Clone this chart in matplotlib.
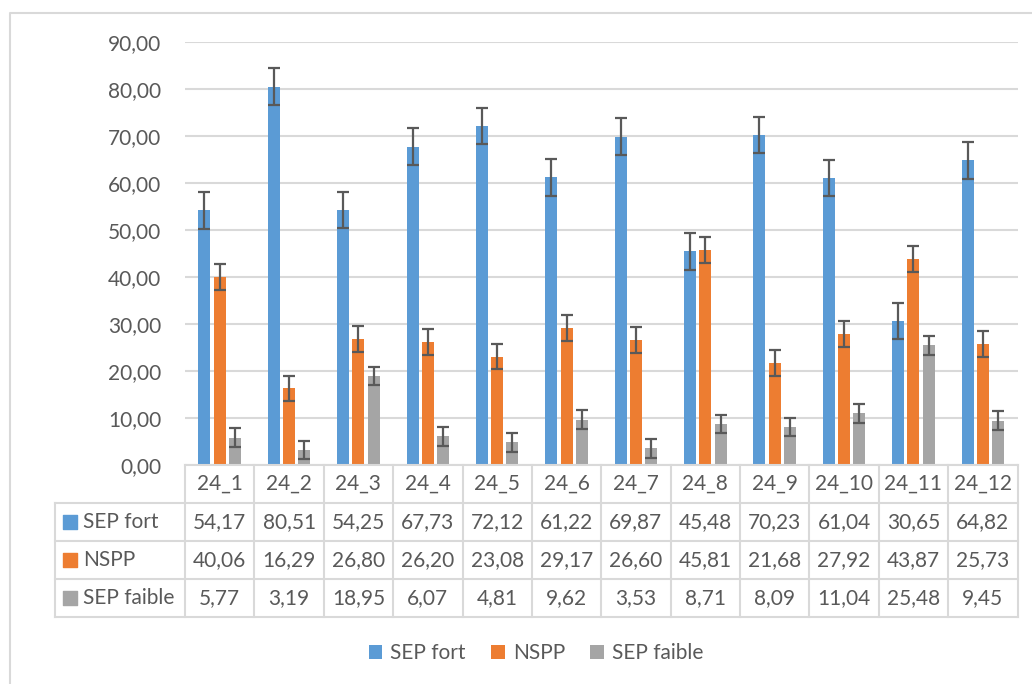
import matplotlib
matplotlib.use("Agg")
import matplotlib.pyplot as plt
from matplotlib.patches import Patch
import numpy as np

plt.rcParams['font.family'] = ['Lato', 'DejaVu Sans']

categories = ["24_1", "24_2", "24_3", "24_4", "24_5", "24_6",
              "24_7", "24_8", "24_9", "24_10", "24_11", "24_12"]
series_names = ["SEP fort", "NSPP", "SEP faible"]
sep_fort = [54.17, 80.51, 54.25, 67.73, 72.12, 61.22, 69.87, 45.48, 70.23, 61.04, 30.65, 64.82]
nspp = [40.06, 16.29, 26.80, 26.20, 23.08, 29.17, 26.60, 45.81, 21.68, 27.92, 43.87, 25.73]
sep_faible = [5.77, 3.19, 18.95, 6.07, 4.81, 9.62, 3.53, 8.71, 8.09, 11.04, 25.48, 9.45]
err_fort = [3.9] * 12
err_nspp = [2.75] * 12
err_faible = [2.0] * 12
yticks = [0, 10, 20, 30, 40, 50, 60, 70, 80, 90]

colors = ["#5B9BD5", "#ED7D31", "#A5A5A5"]
text_c = "#595959"
grid_c = "#D9D9D9"
FS = 15

W, H = 1032, 684
fig = plt.figure(figsize=(W / 100, H / 100), dpi=100)

# outer chart border
ov = fig.add_axes([0, 0, 1, 1])
ov.set_xlim(0, W)
ov.set_ylim(H, 0)
ov.axis('off')
ov.plot([10, 10, W], [H, 13, 13], color=grid_c, lw=1.5)

x_left, x_right = 185, 1017.5
y_top, y_zero = 42, 465
ax = fig.add_axes([x_left / W, (H - y_zero) / H, (x_right - x_left) / W, (y_zero - y_top) / H])
n = len(categories)
x = np.arange(n)
bw = 0.173
step = 0.22
data = [sep_fort, nspp, sep_faible]
errs = [err_fort, err_nspp, err_faible]
for k in range(3):
    ax.bar(x + (k - 1) * step, data[k], width=bw, color=colors[k], zorder=3,
           yerr=errs[k], error_kw=dict(ecolor="#595959", elinewidth=1.6, capsize=4.5, capthick=1.6, zorder=4))
ax.set_xlim(-0.5, n - 0.5)
ax.set_ylim(0, 90)
ax.set_yticks(yticks)
ax.set_yticklabels([f"{v:.2f}".replace('.', ',') for v in yticks], fontsize=FS, color=text_c)
ax.tick_params(axis='y', length=0, pad=17)
ax.set_xticks([])
ax.grid(axis='y', color=grid_c, lw=1.5, zorder=0)
for s in ax.spines.values():
    s.set_visible(False)

# data table
t_left, t_bottom = 55, 616.7
colw = (x_right - x_left) / n
lab_w = (x_left - t_left) / colw
tab = fig.add_axes([t_left / W, (H - t_bottom) / H, (x_right - t_left) / W, (t_bottom - y_zero) / H])
tab.set_xlim(-0.5 - lab_w, n - 0.5)
tab.set_ylim(4, 0)
tab.axis('off')
lc = grid_c
lw = 1.5
tab.plot([-0.5, n - 0.5], [0, 0], color=lc, lw=lw, clip_on=False)
for r in range(1, 5):
    tab.plot([-0.5 - lab_w, n - 0.5], [r, r], color=lc, lw=lw, clip_on=False)
for c in range(n + 1):
    tab.plot([-0.5 + c, -0.5 + c], [0, 4], color=lc, lw=lw, clip_on=False)
tab.plot([-0.5 - lab_w, -0.5 - lab_w], [1, 4], color=lc, lw=lw, clip_on=False)
for i, cat in enumerate(categories):
    tab.text(i, 0.5, cat, ha='center', va='center', fontsize=FS, color=text_c)
for r in range(3):
    for i in range(n):
        tab.text(i, r + 1.5, f"{data[r][i]:.2f}".replace('.', ','), ha='center', va='center',
                 fontsize=FS, color=text_c)
    sq_x = -0.5 - lab_w + 15 / colw
    tab.scatter([sq_x], [r + 1.5], marker='s', s=110, color=colors[r], clip_on=False)
    tab.text(-0.5 - lab_w + 28 / colw, r + 1.5, series_names[r], ha='left', va='center',
             fontsize=FS, color=text_c)

handles = [Patch(facecolor=colors[k], edgecolor='none', label=series_names[k]) for k in range(3)]
fig.legend(handles=handles, loc='center', bbox_to_anchor=(536 / W, (H - 653) / H), ncol=3,
           frameon=False, fontsize=FS, handlelength=0.65, handleheight=0.65, handletextpad=0.4,
           columnspacing=1.2, labelcolor=text_c)

fig.savefig("out.png", dpi=100)
